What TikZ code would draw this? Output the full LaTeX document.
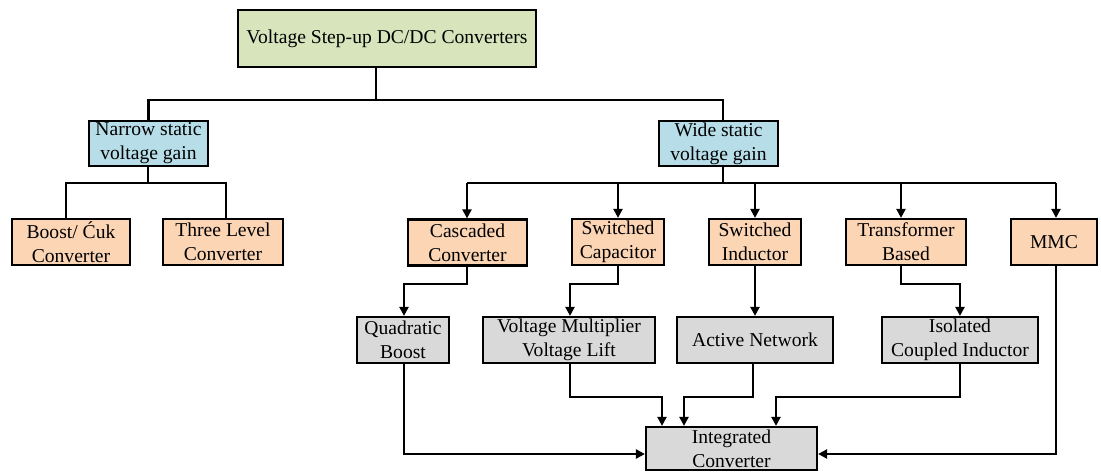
\documentclass[tikz,border=0pt]{standalone}
\usepackage{fontspec}
\setmainfont{Liberation Serif}
\usetikzlibrary{arrows.meta}
\definecolor{cgreen}{RGB}{216,228,188}
\definecolor{cblue}{RGB}{183,222,232}
\definecolor{corange}{RGB}{252,213,181}
\definecolor{cgrey}{RGB}{217,217,217}
\begin{document}
\begin{tikzpicture}[x=1pt,y=-1pt,
  box/.style={draw=black, line width=2.2pt, inner sep=0pt, align=center,
    font=\fontsize{19.6}{24}\selectfont},
  wire/.style={line width=2.2pt},
  arr/.style={wire,-{Triangle[length=9pt,width=9pt]}}]
\useasboundingbox (0,0) rectangle (1101,473);

% nodes
\node[box, fill=cgreen, minimum width=298, minimum height=57] (top) at (387,38.5) {Voltage Step-up DC/DC Converters};
\node[box, fill=cblue, minimum width=119, minimum height=45] (narrow) at (148.5,143.5) {Narrow static\\voltage gain};
\node[box, fill=cblue, minimum width=119, minimum height=45] (wide) at (718.5,143.5) {Wide static\\voltage gain};

\node[box, fill=corange, minimum width=118, minimum height=46] (boost) at (71,242) {Boost/ Ćuk\\Converter};
\node[box, fill=corange, minimum width=120, minimum height=46] (three) at (223,242) {Three Level\\Converter};
\node[box, fill=corange, minimum width=119, minimum height=46] (casc) at (467.5,242.5) {Cascaded\\Converter};
\node[box, fill=corange, minimum width=92, minimum height=46] (cap) at (618,242) {Switched\\Capacitor};
\node[box, fill=corange, minimum width=92, minimum height=46] (ind) at (755,242) {Switched\\Inductor};
\node[box, fill=corange, minimum width=120, minimum height=46] (trans) at (906,242) {Transformer\\Based};
\node[box, fill=corange, minimum width=86, minimum height=46] (mmc) at (1054,242) {MMC};

\node[box, fill=cgrey, minimum width=92, minimum height=46] (quad) at (403,340) {Quadratic\\Boost};
\node[box, fill=cgrey, minimum width=172, minimum height=46] (vm) at (569,340) {Voltage Multiplier\\Voltage Lift};
\node[box, fill=cgrey, minimum width=156, minimum height=46] (act) at (755,340) {Active Network};
\node[box, fill=cgrey, minimum width=156, minimum height=46] (iso) at (960,340) {Isolated\\Coupled Inductor};
\node[box, fill=cgrey, minimum width=171, minimum height=43] (integ) at (731.5,448.5) {Integrated\\Converter};

% junction coordinates
\coordinate (t0) at (376,100);
\coordinate (wtop) at (723,100);
\coordinate (nj) at (148,183);
\coordinate (bj) at (66,183);
\coordinate (tj) at (226,183);
\coordinate (wj) at (723,183);
\coordinate (cj) at (467,183);
\coordinate (kj) at (618,183);
\coordinate (ij) at (755,183);
\coordinate (rj) at (901,183);
\coordinate (mj) at (1056,183);

\coordinate (c1) at (467,284);
\coordinate (c2) at (404,284);
\coordinate (k1) at (618,284);
\coordinate (k2) at (570,284);
\coordinate (r1) at (901,284);
\coordinate (r2) at (960,284);

\coordinate (q1) at (404,454);
\coordinate (v1) at (570,397);
\coordinate (v2) at (662,397);
\coordinate (a1) at (753,397);
\coordinate (a2) at (684,397);
\coordinate (s1) at (960,397);
\coordinate (s2) at (776,397);
\coordinate (m1) at (1056,454);

% top level
\draw[wire] (top.south -| t0) -- (t0);
\draw[wire] (narrow.north) |- (t0) -- (wtop) -- (wide.north -| wtop);

% narrow branch
\draw[wire] (narrow.south -| nj) -- (nj);
\draw[wire] (boost.north -| bj) -- (bj) -- (tj) -- (three.north -| tj);

% wide branch
\draw[wire] (wide.south -| wj) -- (wj);
\draw[wire] (cj) -- (mj);
\draw[arr] (cj) -- (casc.north -| cj);
\draw[arr] (kj) -- (cap.north -| kj);
\draw[arr] (ij) -- (ind.north -| ij);
\draw[arr] (rj) -- (trans.north -| rj);
\draw[arr] (mj) -- (mmc.north -| mj);

% level 2 -> level 3
\draw[arr] (casc.south -| c1) -- (c1) -- (c2) -- (quad.north -| c2);
\draw[arr] (cap.south -| k1) -- (k1) -- (k2) -- (vm.north -| k2);
\draw[arr] (ind.south) -- (act.north);
\draw[arr] (trans.south -| r1) -- (r1) -- (r2) -- (iso.north -| r2);

% level 3 -> integrated
\draw[arr] (quad.south -| q1) -- (q1) -- (integ.west |- q1);
\draw[arr] (vm.south -| v1) -- (v1) -- (v2) -- (integ.north -| v2);
\draw[arr] (act.south -| a1) -- (a1) -- (a2) -- (integ.north -| a2);
\draw[arr] (iso.south -| s1) -- (s1) -- (s2) -- (integ.north -| s2);
\draw[arr] (mmc.south -| m1) -- (m1) -- (integ.east |- m1);
\end{tikzpicture}
\end{document}
